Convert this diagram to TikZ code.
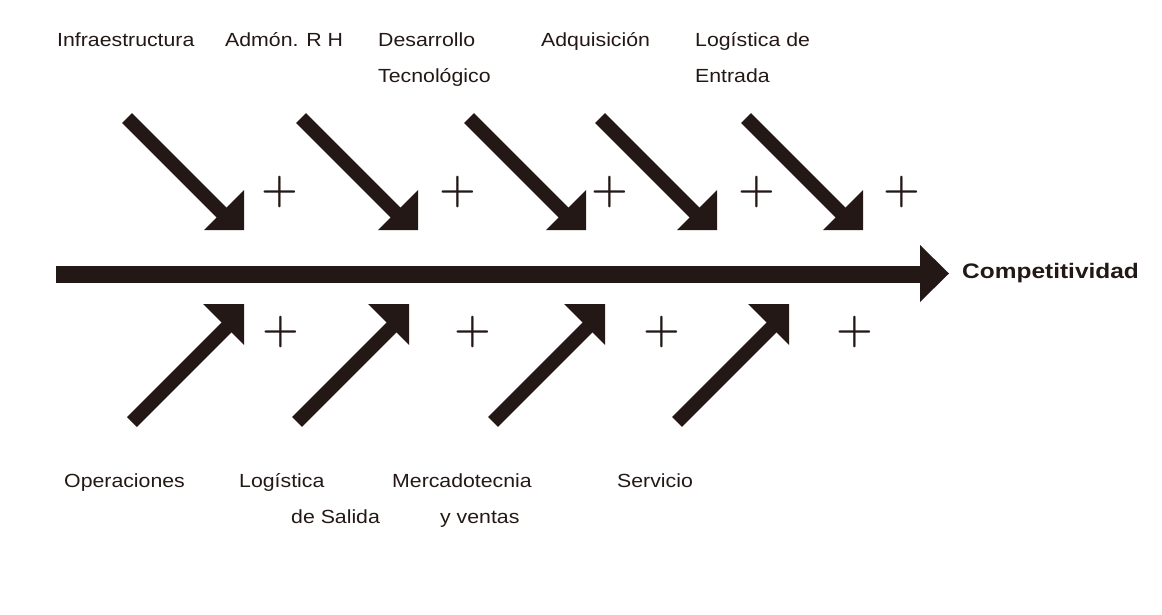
\documentclass[tikz,border=0pt]{standalone}
\usepackage{fontspec}
\usepackage{graphicx}
\setmainfont{Liberation Sans}
\newfontfamily\plusfont{Latin Modern Roman}
\definecolor{ink}{HTML}{231815}
\newcommand{\lab}[1]{\scalebox{1.12}[1]{\fontsize{19}{23}\selectfont #1}}
\newcommand{\labb}[1]{\scalebox{1.165}[1]{\fontsize{21}{25}\selectfont\bfseries #1}}
\begin{document}
\begin{tikzpicture}[x=1pt,y=-1pt,
  txt/.style={anchor=base west,inner sep=0pt,text=ink},
  plus/.style={inner sep=0pt,text=ink,font=\plusfont\bfseries\fontsize{42}{42}\selectfont},
  shaft/.style={draw=ink,line width=14pt},
  head/.style={fill=ink}]
\useasboundingbox (0,0) rectangle (1162,615);
% main spine
\coordinate (s0) at (56,274);
\coordinate (s1) at (925,274);
\draw[draw=ink,line width=17pt] (s0) -- (s1);
\fill[ink] (920,245) -- (949,273.5) -- (920,302) -- cycle;
\node[txt] (comp) at (962,278) {\labb{Competitividad}};
% upper arrows
\foreach \xr/\nm in {244/u1,418/u2,586/u3,717/u4,863/u5}{
  \coordinate (\nm s) at (\xr-117,118);
  \coordinate (\nm e) at (\xr-15,220);
  \draw[shaft] (\nm s) -- (\nm e);
  \fill[ink] (\xr,230) -- (\xr,190) -- (\xr-40,230) -- cycle;
}
% lower arrows
\foreach \xr/\nm in {244/l1,409/l2,605/l3,789/l4}{
  \coordinate (\nm s) at (\xr-112,422);
  \coordinate (\nm e) at (\xr-15,325);
  \draw[shaft] (\nm s) -- (\nm e);
  \fill[ink] (\xr,304) -- (\xr-41,304) -- (\xr,345) -- cycle;
}
% plus signs
\foreach \x/\nm in {280/p1,458/p2,610/p3,757/p4,902/p5}{
  \node[plus] (\nm) at (\x,192) {+};
}
\foreach \x/\nm in {281/q1,473/q2,662/q3,855/q4}{
  \node[plus] (\nm) at (\x,332) {+};
}
% top labels
\node[txt] (t1) at (57,47) {\lab{Infraestructura}};
\node[txt] (t2) at (225,47) {\lab{Admón. R H}};
\node[txt] (t3a) at (378,47) {\lab{Desarrollo}};
\node[txt] (t3b) at (378,83) {\lab{Tecnológico}};
\node[txt] (t4) at (541,47) {\lab{Adquisición}};
\node[txt] (t5a) at (695,47) {\lab{Logística de}};
\node[txt] (t5b) at (695,83) {\lab{Entrada}};
% bottom labels
\node[txt] (b1) at (64,487) {\lab{Operaciones}};
\node[txt] (b2a) at (239,487) {\lab{Logística}};
\node[txt] (b2b) at (291,523) {\lab{de Salida}};
\node[txt] (b3a) at (392,487) {\lab{Mercadotecnia}};
\node[txt] (b3b) at (440,523) {\lab{y ventas}};
\node[txt] (b4) at (617,487) {\lab{Servicio}};
\end{tikzpicture}
\end{document}
